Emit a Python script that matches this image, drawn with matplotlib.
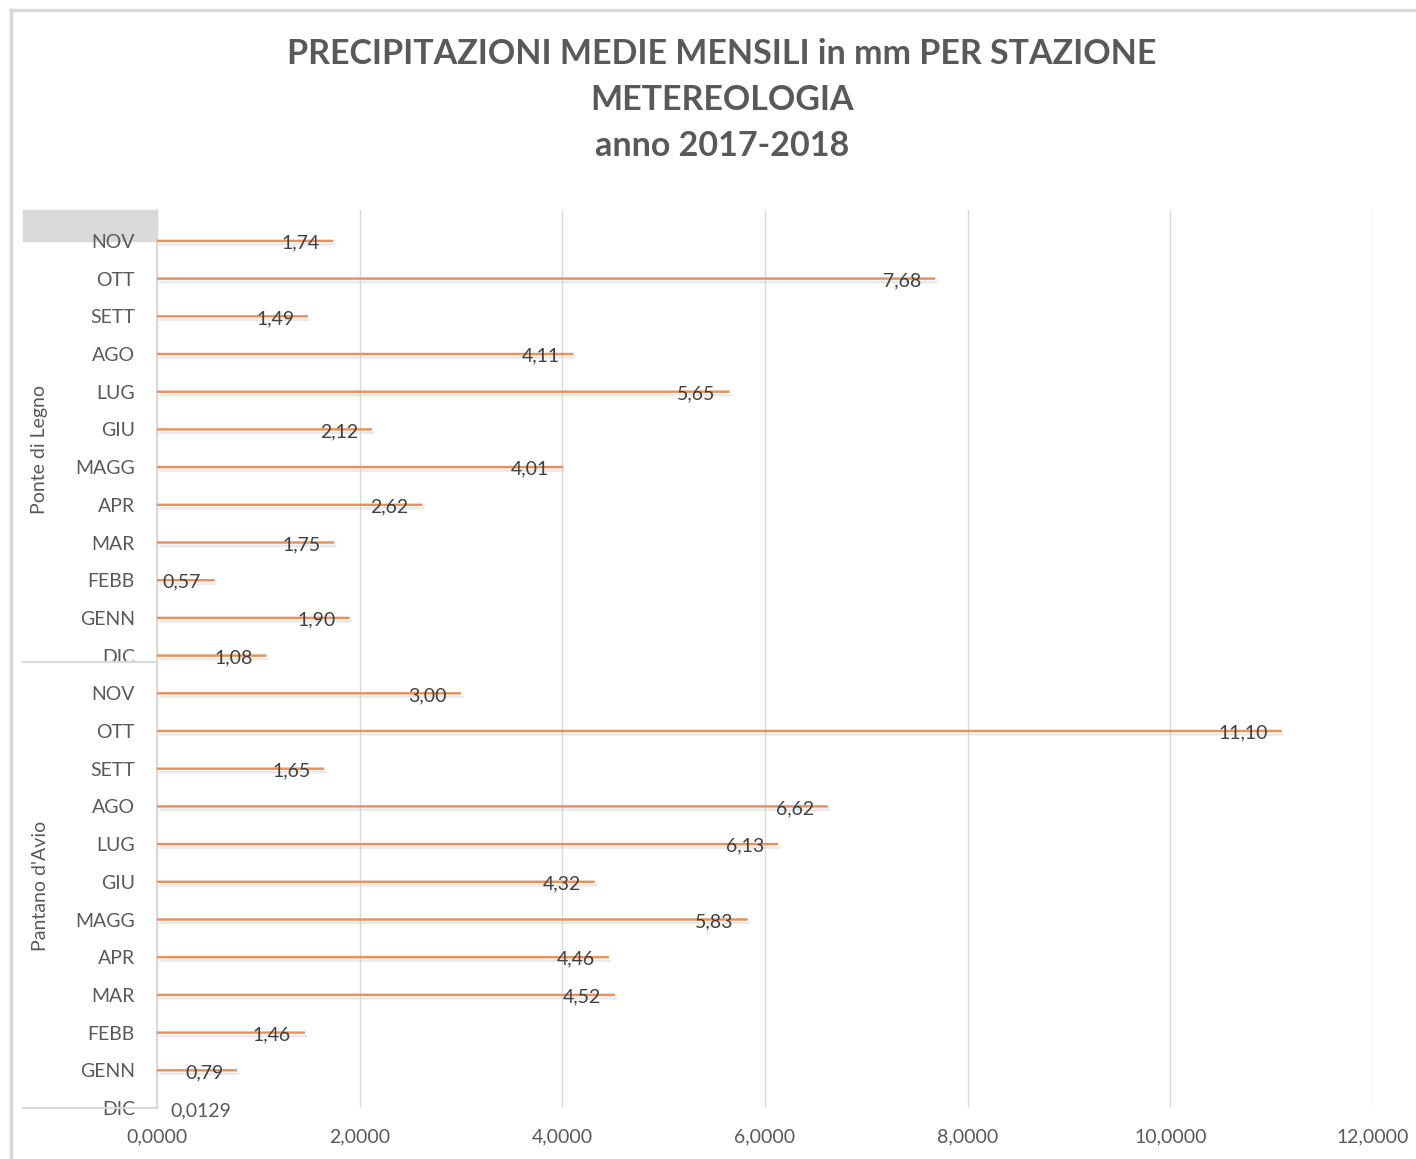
import matplotlib.pyplot as plt
import matplotlib.patheffects as pe
from matplotlib.lines import Line2D
import numpy as np

plt.rcParams['font.family'] = ['Lato', 'DejaVu Sans']

# DATA (bottom to top, as drawn)
months = ["DIC", "GENN", "FEBB", "MAR", "APR", "MAGG", "GIU", "LUG", "AGO", "SETT", "OTT", "NOV"]
stations = ["Pantano d'Avio", "Ponte di Legno"]
pantano = [0.0129, 0.79, 1.46, 4.52, 4.46, 5.83, 4.32, 6.13, 6.62, 1.65, 11.10, 3.00]
ponte = [1.08, 1.90, 0.57, 1.75, 2.62, 4.01, 2.12, 5.65, 4.11, 1.49, 7.68, 1.74]
xticks = [0, 2, 4, 6, 8, 10, 12]

TXT = '#595959'
GRID = '#D9D9D9'
BAR = '#E8915A'

W, H = 1416, 1159
fig = plt.figure(figsize=(W / 100, H / 100), dpi=100)

# chart area border (top and left only visible)
fig.add_artist(Line2D([11 / W, 1], [1 - 10 / H, 1 - 10 / H], color=GRID, lw=2.5))
fig.add_artist(Line2D([11 / W, 11 / W], [0, 1 - 10 / H], color=GRID, lw=2.5))

ax = fig.add_axes([157 / W, 1 - 1108 / H, (1373 - 157) / W, (1108 - 210) / H])

values = pantano + ponte
labels = months + months
y = np.arange(len(values))

bars = ax.barh(y, values, height=0.065, color=BAR, zorder=3)
for b in bars:
    b.set_snap(False)
    b.set_path_effects([pe.SimplePatchShadow(offset=(1.5, -2.5), shadow_rgbFace='#d0d0d0', alpha=0.45), pe.Normal()])

# data labels
for yi, v in zip(y, values):
    if v < 0.1:
        txt = f"{v:.4f}".replace('.', ',')
        ax.annotate(txt, (v, yi), xytext=(9, -2), textcoords='offset points',
                    ha='left', va='center', fontsize=14, color=TXT, zorder=4)
    else:
        txt = f"{v:.2f}".replace('.', ',')
        ax.annotate(txt, (v, yi), xytext=(-10, -1.5), textcoords='offset points',
                    ha='right', va='center', fontsize=14, color='#404040', zorder=4)

ax.set_xlim(0, 12)
ax.set_ylim(0, 23.82)
ax.set_xticks(xticks)
ax.set_xticklabels([f"{t:.4f}".replace('.', ',') for t in xticks], fontsize=14, color=TXT)
ax.set_yticks(y)
ax.set_yticklabels(labels, fontsize=14, color=TXT)
ax.tick_params(axis='both', length=0)
ax.tick_params(axis='y', pad=16)
ax.tick_params(axis='x', pad=15)
ax.grid(axis='x', color=GRID, lw=1, zorder=0)
for s in ['top', 'right', 'bottom']:
    ax.spines[s].set_visible(False)
ax.spines['left'].set_color(GRID)
ax.spines['left'].set_linewidth(1.5)

# category grouping lines and gray header box
x0 = 23 / W
xa = 157 / W
for yy in [662, 1108]:
    fig.add_artist(Line2D([x0, xa], [1 - yy / H, 1 - yy / H], color=GRID, lw=1.5))
fig.add_artist(plt.Rectangle((x0, 1 - 241 / H), xa - x0, 31 / H, color=GRID, zorder=0))

# group labels
fig.text(40 / W, 1 - 450 / H, stations[1], rotation=90, ha='center', va='center', fontsize=14, color=TXT)
fig.text(40 / W, 1 - 886 / H, stations[0], rotation=90, ha='center', va='center', fontsize=14, color=TXT)

fig.text(0.51, 1 - 100 / H, "PRECIPITAZIONI MEDIE MENSILI in mm PER STAZIONE\nMETEREOLOGIA\nanno 2017-2018",
         ha='center', va='center', fontsize=24.5, fontweight='bold', color=TXT, linespacing=1.52)

fig.savefig("out.png", dpi=100)
